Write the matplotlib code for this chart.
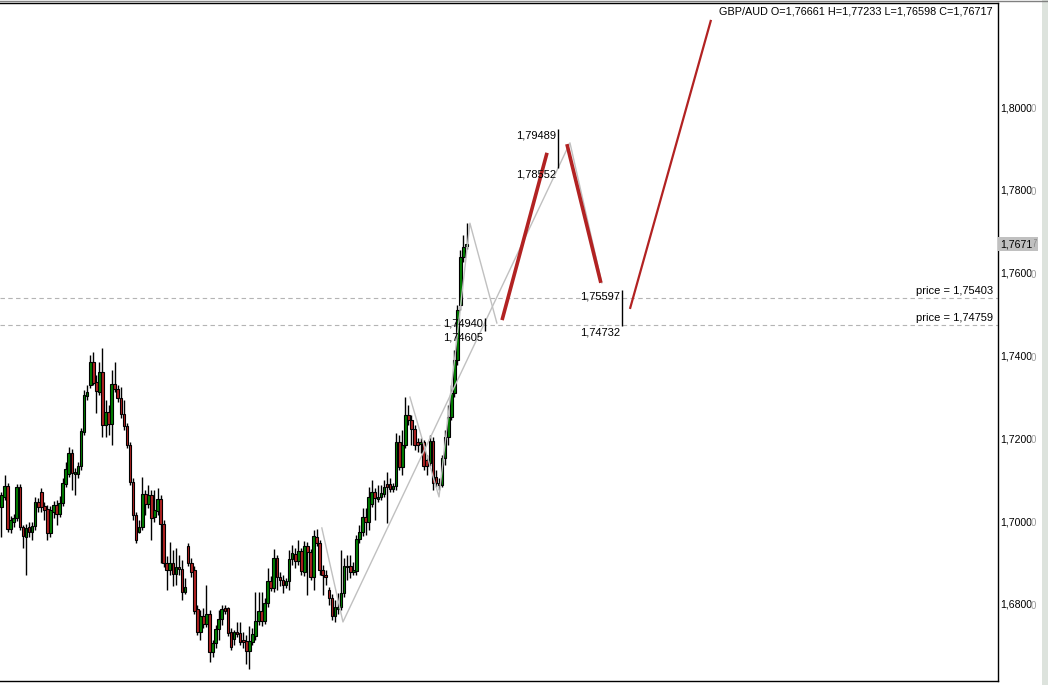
import matplotlib
matplotlib.use('Agg')
import matplotlib.pyplot as plt
from matplotlib.patches import Rectangle
from matplotlib.lines import Line2D
import numpy as np

plt.rcParams['font.family'] = ['Liberation Sans', 'DejaVu Sans']

# GBP/AUD bars (price)
opens = [1.7037, 1.7061, 1.7087, 1.6983, 1.7000, 1.7010, 1.7085, 1.6988, 1.6964, 1.6988,
         1.6976, 1.6991, 1.7049, 1.7073, 1.7039, 1.7032, 1.6974, 1.7025, 1.7041, 1.7020,
         1.7046, 1.7092, 1.7116, 1.7167, 1.7116, 1.7116, 1.7136, 1.7218, 1.7305, 1.7331,
         1.7387, 1.7338, 1.7314, 1.7363, 1.7235, 1.7266, 1.7237, 1.7334, 1.7322, 1.7300,
         1.7261, 1.7232, 1.7186, 1.7097, 1.7017, 1.6976, 1.6988, 1.7068, 1.7044, 1.7066,
         1.7012, 1.7027, 1.7056, 1.6996, 1.6901, 1.6884, 1.6901, 1.6875, 1.6892, 1.6887,
         1.6831, 1.6942, 1.6901, 1.6884, 1.6790, 1.6735, 1.6773, 1.6754, 1.6778, 1.6686,
         1.6708, 1.6742, 1.6766, 1.6793, 1.6793, 1.6735, 1.6718, 1.6735, 1.6732, 1.6715,
         1.6713, 1.6689, 1.6710, 1.6725, 1.6761, 1.6785, 1.6761, 1.6805, 1.6858, 1.6841,
         1.6913, 1.6867, 1.6860, 1.6848, 1.6858, 1.6911, 1.6923, 1.6906, 1.6930, 1.6879,
         1.6942, 1.6928, 1.6867, 1.6964, 1.6950, 1.6884, 1.6872, 1.6836, 1.6817, 1.6773,
         1.6790, 1.6795, 1.6829, 1.6894, 1.6894, 1.6879, 1.6882, 1.6959, 1.6976, 1.7012,
         1.7000, 1.7044, 1.7073, 1.7056, 1.7061, 1.7068, 1.7092, 1.7092, 1.7080, 1.7087,
         1.7194, 1.7133, 1.7186, 1.7259, 1.7247, 1.7225, 1.7194, 1.7189, 1.7194, 1.7150,
         1.7143, 1.7196, 1.7109, 1.7095, 1.7090, 1.7155, 1.7206, 1.7254, 1.7312, 1.7392,
         1.7525, 1.7640, 1.76661]
highs = [1.7073, 1.7114, 1.7095, 1.7015, 1.7020, 1.7092, 1.7092, 1.6993, 1.6996, 1.7000,
         1.7000, 1.7061, 1.7058, 1.7082, 1.7049, 1.7041, 1.7039, 1.7051, 1.7053, 1.7063,
         1.7107, 1.7145, 1.7181, 1.7177, 1.7131, 1.7145, 1.7227, 1.7319, 1.7331, 1.7404,
         1.7411, 1.7355, 1.7387, 1.7421, 1.7295, 1.7283, 1.7367, 1.7387, 1.7331, 1.7326,
         1.7295, 1.7239, 1.7194, 1.7107, 1.7025, 1.7005, 1.7109, 1.7078, 1.7090, 1.7078,
         1.7078, 1.7082, 1.7066, 1.7005, 1.6918, 1.6952, 1.6933, 1.6938, 1.6921, 1.6909,
         1.6865, 1.6950, 1.6913, 1.6894, 1.6799, 1.6788, 1.6793, 1.6848, 1.6788, 1.6715,
         1.6752, 1.6788, 1.6799, 1.6799, 1.6795, 1.6744, 1.6740, 1.6759, 1.6759, 1.6735,
         1.6727, 1.6749, 1.6744, 1.6831, 1.6831, 1.6831, 1.6817, 1.6889, 1.6870, 1.6935,
         1.6921, 1.6879, 1.6872, 1.6865, 1.6933, 1.6945, 1.6938, 1.6957, 1.6938, 1.6955,
         1.6952, 1.6935, 1.6981, 1.6983, 1.6957, 1.6896, 1.6884, 1.6843, 1.6826, 1.6812,
         1.6829, 1.6933, 1.6913, 1.6921, 1.6921, 1.6904, 1.6969, 1.6993, 1.7034, 1.7034,
         1.7085, 1.7102, 1.7082, 1.7090, 1.7090, 1.7102, 1.7121, 1.7107, 1.7095, 1.7216,
         1.7210, 1.7223, 1.7302, 1.7283, 1.7259, 1.7235, 1.7203, 1.7203, 1.7198, 1.7162,
         1.7210, 1.7206, 1.7126, 1.7107, 1.7162, 1.7223, 1.7283, 1.7331, 1.7416, 1.7525,
         1.7657, 1.7693, 1.77233]
lows = [1.6964, 1.7053, 1.6976, 1.6974, 1.6988, 1.7003, 1.6981, 1.6938, 1.6872, 1.6964,
        1.6957, 1.6981, 1.7025, 1.7025, 1.7005, 1.6957, 1.6964, 1.7010, 1.6993, 1.7012,
        1.7039, 1.7085, 1.7109, 1.7078, 1.7066, 1.7107, 1.7126, 1.7210, 1.7295, 1.7324,
        1.7331, 1.7264, 1.7307, 1.7206, 1.7206, 1.7210, 1.7186, 1.7314, 1.7290, 1.7252,
        1.7223, 1.7179, 1.7090, 1.7005, 1.6950, 1.6974, 1.6981, 1.7017, 1.7034, 1.6957,
        1.7000, 1.7017, 1.6901, 1.6892, 1.6836, 1.6872, 1.6846, 1.6848, 1.6872, 1.6812,
        1.6826, 1.6894, 1.6867, 1.6778, 1.6727, 1.6715, 1.6744, 1.6747, 1.6662, 1.6674,
        1.6696, 1.6715, 1.6752, 1.6778, 1.6725, 1.6691, 1.6703, 1.6722, 1.6703, 1.6696,
        1.6657, 1.6645, 1.6703, 1.6715, 1.6752, 1.6749, 1.6754, 1.6795, 1.6834, 1.6831,
        1.6836, 1.6846, 1.6829, 1.6841, 1.6836, 1.6897, 1.6889, 1.6897, 1.6872, 1.6870,
        1.6824, 1.6860, 1.6836, 1.6942, 1.6872, 1.6824, 1.6848, 1.6800, 1.6764, 1.6759,
        1.6778, 1.6788, 1.6819, 1.6860, 1.6865, 1.6872, 1.6872, 1.6950, 1.6966, 1.6969,
        1.6981, 1.7037, 1.7005, 1.7049, 1.7053, 1.7061, 1.6998, 1.7073, 1.7073, 1.7078,
        1.7126, 1.7114, 1.7179, 1.7235, 1.7186, 1.7174, 1.7169, 1.7167, 1.7126, 1.7114,
        1.7136, 1.7078, 1.7085, 1.7078, 1.7085, 1.7138, 1.7186, 1.7247, 1.7302, 1.7380,
        1.7512, 1.7628, 1.76598]
closes = [1.7066, 1.7087, 1.6983, 1.7005, 1.7010, 1.7085, 1.6988, 1.6966, 1.6986, 1.6976,
          1.6991, 1.7049, 1.7037, 1.7037, 1.7029, 1.6974, 1.7029, 1.7041, 1.7020, 1.7046,
          1.7095, 1.7128, 1.7167, 1.7119, 1.7121, 1.7136, 1.7220, 1.7307, 1.7314, 1.7387,
          1.7336, 1.7317, 1.7363, 1.7235, 1.7266, 1.7237, 1.7334, 1.7322, 1.7300, 1.7261,
          1.7232, 1.7186, 1.7097, 1.7017, 1.6957, 1.6988, 1.7068, 1.7044, 1.7066, 1.7010,
          1.7029, 1.7056, 1.6996, 1.6901, 1.6884, 1.6901, 1.6875, 1.6892, 1.6887, 1.6831,
          1.6843, 1.6901, 1.6879, 1.6785, 1.6735, 1.6773, 1.6754, 1.6778, 1.6686, 1.6708,
          1.6742, 1.6766, 1.6790, 1.6785, 1.6732, 1.6698, 1.6735, 1.6730, 1.6710, 1.6710,
          1.6689, 1.6713, 1.6730, 1.6761, 1.6785, 1.6761, 1.6805, 1.6858, 1.6841, 1.6913,
          1.6867, 1.6860, 1.6848, 1.6858, 1.6911, 1.6926, 1.6906, 1.6930, 1.6882, 1.6942,
          1.6928, 1.6867, 1.6966, 1.6950, 1.6884, 1.6872, 1.6867, 1.6817, 1.6773, 1.6795,
          1.6795, 1.6829, 1.6894, 1.6892, 1.6879, 1.6884, 1.6959, 1.6976, 1.7012, 1.7000,
          1.7061, 1.7073, 1.7058, 1.7061, 1.7071, 1.7085, 1.7085, 1.7080, 1.7087, 1.7194,
          1.7133, 1.7186, 1.7259, 1.7247, 1.7225, 1.7186, 1.7186, 1.7194, 1.7136, 1.7136,
          1.7196, 1.7095, 1.7095, 1.7090, 1.7155, 1.7206, 1.7254, 1.7312, 1.7392, 1.7512,
          1.7640, 1.7664, 1.76717]

# grey zigzag (bar index, price)
zigzag_a_x = [104.7, 111.6, 185.8, 196.2]
zigzag_a_y = [1.6986, 1.6759, 1.7916, 1.7578]
zigzag_b_x = [133.5, 143.0, 153.1, 161.9]
zigzag_b_y = [1.7302, 1.7061, 1.7722, 1.7481]

# red projection legs
legs_x = [(163.6, 178.3), (184.8, 195.9), (205.4, 231.9)]
legs_y = [(1.7488, 1.7892), (1.7913, 1.7578), (1.7515, 1.8213)]
legs_w = [2.6, 2.6, 1.6]

# black range markers
marker_x = [158.0, 181.9, 202.8]
marker_hi = [1.74940, 1.79489, 1.75597]
marker_lo = [1.74605, 1.78552, 1.74732]

price_levels = [1.75403, 1.74759]
axis_ticks = [1.68, 1.70, 1.72, 1.74, 1.76, 1.78, 1.80]
last_close = 1.76717
ohlc_title = "GBP/AUD O=1,76661 H=1,77233 L=1,76598 C=1,76717"


def fmt(v):
    return f"{v:.5f}".replace('.', ',')


fig = plt.figure(figsize=(10.48, 6.85), dpi=100)
fig.patch.set_facecolor('white')
ax = fig.add_axes([0, 4 / 685, 998 / 1048, 678 / 685])

o = np.array(opens)
c = np.array(closes)
idx = np.arange(len(c))
up = c >= o
colors = np.where(up, '#008000', '#b22222')

ax.vlines(idx, lows, highs, color='black', lw=1, zorder=2)
ax.bar(idx, np.where(np.abs(c - o) < 0.00005, 0.00005, c - o), bottom=o, width=0.86,
       color=colors, edgecolor='black', linewidth=0.8, zorder=3)

for v in price_levels:
    ax.axhline(v, color='#b4b4b4', lw=0.8, ls=(0, (4, 3)), zorder=1)
    ax.annotate(f"price = {fmt(v)}", xy=(1, v), xycoords=('axes fraction', 'data'),
                xytext=(-5, 2), textcoords='offset pixels', ha='right', va='bottom',
                fontsize=8)

ax.plot(zigzag_a_x, zigzag_a_y, color='#c0c0c0', lw=1, zorder=4)
ax.plot(zigzag_b_x, zigzag_b_y, color='#c0c0c0', lw=1, zorder=4)

for lx, ly, w in zip(legs_x, legs_y, legs_w):
    ax.plot(lx, ly, color='#b22222', lw=w, zorder=5, solid_capstyle='butt')

for mx, hi, lo in zip(marker_x, marker_hi, marker_lo):
    ax.vlines(mx, lo, hi, color='black', lw=1, zorder=6)
    for v in (hi, lo):
        ax.annotate(fmt(v), xy=(mx, v), xytext=(-2, -1), textcoords='offset pixels',
                    ha='right', va='top', fontsize=8, zorder=7)

# right price scale
for v in axis_ticks:
    s = fmt(v)
    ax.annotate(s[:-1], xy=(1, v), xycoords=('axes fraction', 'data'), xytext=(2, 0),
                textcoords='offset pixels', ha='left', va='center', fontsize=7.6,
                annotation_clip=False)
    ax.annotate(s[-1], xy=(1, v), xycoords=('axes fraction', 'data'), xytext=(33, -1),
                textcoords='offset pixels', ha='left', va='center', fontsize=7,
                color='#999999', annotation_clip=False)

s = fmt(last_close)
box = dict(boxstyle='square,pad=0.2', fc='#c0c0c0', ec='none')
ax.annotate(s[-1], xy=(1, last_close), xycoords=('axes fraction', 'data'), xytext=(33, 0),
            textcoords='offset pixels', ha='left', va='center', fontsize=7, color='#8c8c8c',
            bbox=box, annotation_clip=False, zorder=8)
ax.annotate(s[:-1], xy=(1, last_close), xycoords=('axes fraction', 'data'), xytext=(2, 0),
            textcoords='offset pixels', ha='left', va='center', fontsize=7.6, bbox=box,
            annotation_clip=False, zorder=9)

ax.annotate(ohlc_title, xy=(1, 1), xycoords='axes fraction', xytext=(-5, -4),
            textcoords='offset pixels', ha='right', va='top', fontsize=7.8)

ax.set_xlim(-0.49, 325.7)
ax.set_ylim(1.66164, 1.82538)
ax.set_xticks([])
ax.set_yticks([])
ax.spines['left'].set_visible(False)
for side in ('top', 'right', 'bottom'):
    ax.spines[side].set_linewidth(1)
    ax.spines[side].set_color('black')

fig.add_artist(Line2D([0, 1], [1 - 1.2 / 685] * 2, transform=fig.transFigure,
                      color='#808080', lw=1))
fig.patches.append(Rectangle((1042 / 1048, 0), 6 / 1048, 1, transform=fig.transFigure,
                             fc='#dde3dd', ec='none'))

fig.savefig('out.png', dpi=100)
